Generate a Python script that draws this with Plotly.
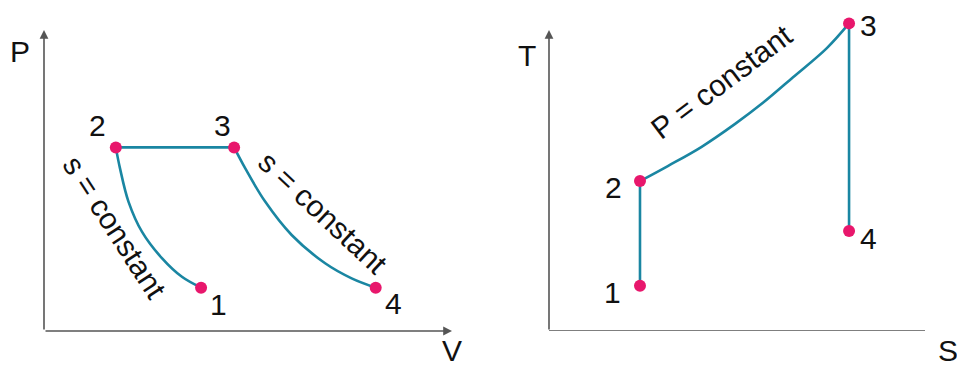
import plotly.graph_objects as go

W, H = 957, 367

# ---- data ----
# P-V diagram (abstract units)
pv_comp_V = [1.76, 1.86, 2.07, 2.40, 2.89, 3.38, 3.85]   # 2 -> 1 (s = constant)
pv_comp_P = [6.10, 5.42, 4.30, 3.30, 2.42, 1.80, 1.44]
pv_heat_V = [1.76, 4.66]                                 # 2 -> 3 (P = constant)
pv_heat_P = [6.10, 6.10]
pv_exp_V = [4.66, 4.93, 5.42, 6.07, 6.89, 7.54, 8.13]    # 3 -> 4 (s = constant)
pv_exp_P = [6.10, 5.41, 4.30, 3.19, 2.25, 1.75, 1.44]
pv_pts_V = [3.85, 1.76, 4.66, 8.13]
pv_pts_P = [1.44, 6.10, 6.10, 1.44]

# T-S diagram
ts_comp_S = [2.42, 2.42]                                  # 1 -> 2
ts_comp_T = [1.50, 4.98]
ts_heat_S = [2.42, 3.16, 4.06, 4.95, 5.69, 6.49, 7.39, 7.98]   # 2 -> 3 (P = constant)
ts_heat_T = [4.98, 5.48, 6.12, 6.88, 7.58, 8.43, 9.40, 10.22]
ts_exp_S = [7.98, 7.98]                                   # 3 -> 4
ts_exp_T = [10.22, 3.32]
ts_pts_S = [2.42, 2.42, 7.98, 7.98]
ts_pts_T = [1.50, 4.98, 10.22, 3.32]

point_labels = ["1", "2", "3", "4"]

LINE = "#1a86a2"
DOT = "#e8176c"
AX = "#555555"
FONT = "Liberation Sans, Arial, sans-serif"

def px(x):
    return x / W

def py(y):
    return (H - y) / H

fig = go.Figure()

def line(xs, ys, xa, ya, shape="spline"):
    fig.add_trace(go.Scatter(x=xs, y=ys, mode="lines", xaxis=xa, yaxis=ya,
                             line=dict(color=LINE, width=2.6, shape=shape, smoothing=1.0),
                             hoverinfo="skip", showlegend=False))

def dots(xs, ys, xa, ya):
    fig.add_trace(go.Scatter(x=xs, y=ys, mode="markers", xaxis=xa, yaxis=ya,
                             marker=dict(color=DOT, size=12),
                             cliponaxis=False, showlegend=False))

line(pv_comp_V, pv_comp_P, "x", "y")
line(pv_heat_V, pv_heat_P, "x", "y", "linear")
line(pv_exp_V, pv_exp_P, "x", "y")
dots(pv_pts_V, pv_pts_P, "x", "y")

line(ts_comp_S, ts_comp_T, "x2", "y2", "linear")
line(ts_heat_S, ts_heat_T, "x2", "y2")
line(ts_exp_S, ts_exp_T, "x2", "y2", "linear")
dots(ts_pts_S, ts_pts_T, "x2", "y2")

YTOP = 10.7
ydom = [py(331), py(331 - YTOP * 30.1)]
ax_common = dict(visible=False, fixedrange=True)
fig.update_layout(
    width=W, height=H,
    margin=dict(l=0, r=0, t=0, b=0),
    paper_bgcolor="white", plot_bgcolor="white",
    xaxis=dict(domain=[px(44), px(452)], range=[0, 10], **ax_common),
    yaxis=dict(domain=ydom, range=[0, YTOP], **ax_common),
    xaxis2=dict(domain=[px(549), px(925)], range=[0, 10], anchor="y2", **ax_common),
    yaxis2=dict(domain=ydom, range=[0, YTOP], anchor="x2", **ax_common),
    showlegend=False,
)

anns = []
# axis arrows
def arrow(x0, y0, x1, y1, xr, yr):
    anns.append(dict(x=x1, y=y1, ax=x0, ay=y0, xref=xr, yref=yr, axref=xr, ayref=yr,
                     text="", showarrow=True, arrowhead=2,
                     arrowsize=1.1, arrowwidth=1.6, arrowcolor=AX, standoff=0))

arrow(0, 0, 0, 10, "x", "y")
arrow(0, 0, 10, 0, "x", "y")
arrow(0, 0, 0, 10, "x2", "y2")
fig.add_shape(type="line", xref="x2", yref="y2", x0=0, y0=0, x1=10, y1=0,
              line=dict(color=AX, width=1.6))

def txt(s, x, y, size=30, angle=0):
    anns.append(dict(x=px(x), y=py(y), xref="paper", yref="paper", text=s,
                     showarrow=False, xanchor="center", yanchor="middle",
                     textangle=angle, font=dict(family=FONT, size=size, color="#111111")))

# axis titles
txt("P", 20, 52)
txt("V", 452, 350)
txt("T", 527, 55)
txt("S", 948, 350)

# point labels, P-V
for lab, (x, y) in zip(point_labels, [(218, 304), (97, 125), (222, 125), (393, 303)]):
    txt(lab, x, y)
# point labels, T-S
for lab, (x, y) in zip(point_labels, [(612, 292), (613, 187), (868, 25), (868, 238)]):
    txt(lab, x, y)

# process annotations
txt("s = constant", 114, 227, 30, 57)
txt("s = constant", 323, 212, 30, 43)
txt("P = constant", 722, 82, 30, -37)

fig.update_layout(annotations=anns)
fig.write_html("out.html", config={"displayModeBar": False},
               post_script="document.body.style.margin='0';document.body.style.overflow='hidden';")
